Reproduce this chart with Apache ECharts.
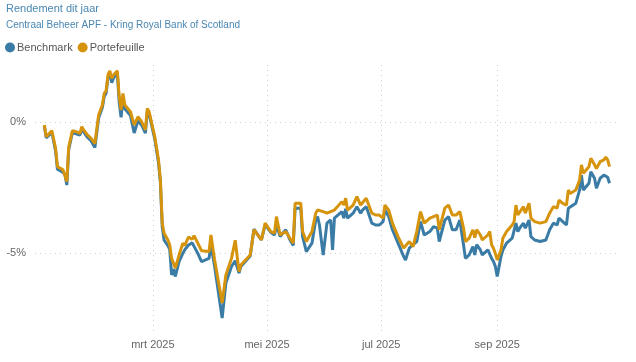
<!DOCTYPE html>
<html>
<head>
<meta charset="utf-8">
<script src="https://cdn.jsdelivr.net/npm/echarts@6/dist/echarts.min.js"></script>
<style>
html,body{margin:0;padding:0;background:#fff;}
#chart{width:636px;height:362px;}
</style>
</head>
<body>
<div id="chart"></div>
<script>
var titleText = 'Rendement dit jaar';
var subtitleText = 'Centraal Beheer APF - Kring Royal Bank of Scotland';
var seriesNames = ['Benchmark', 'Portefeuille'];
var xTickDates = ['2025-03-01', '2025-05-01', '2025-07-01', '2025-09-01'];
var xTickLabels = ['mrt 2025', 'mei 2025', 'jul 2025', 'sep 2025'];
var yTickValues = [0, -5];

var dates = ['2025-01-02','2025-01-03','2025-01-04','2025-01-06','2025-01-08','2025-01-09','2025-01-12','2025-01-13','2025-01-14','2025-01-15','2025-01-16','2025-01-17','2025-01-19','2025-01-21','2025-01-22','2025-01-23','2025-01-25','2025-01-27','2025-01-28','2025-01-29','2025-01-31','2025-02-02','2025-02-03','2025-02-04','2025-02-05','2025-02-06','2025-02-07','2025-02-08','2025-02-10','2025-02-11','2025-02-12','2025-02-13','2025-02-14','2025-02-17','2025-02-18','2025-02-19','2025-02-21','2025-02-23','2025-02-25','2025-02-26','2025-02-27','2025-02-28','2025-03-02','2025-03-04','2025-03-05','2025-03-06','2025-03-07','2025-03-09','2025-03-10','2025-03-11','2025-03-12','2025-03-13','2025-03-15','2025-03-17','2025-03-18','2025-03-19','2025-03-20','2025-03-22','2025-03-23','2025-03-25','2025-03-27','2025-03-28','2025-03-31','2025-04-01','2025-04-03','2025-04-07','2025-04-09','2025-04-12','2025-04-14','2025-04-16','2025-04-17','2025-04-22','2025-04-24','2025-04-25','2025-04-28','2025-04-30','2025-05-03','2025-05-05','2025-05-06','2025-05-08','2025-05-11','2025-05-13','2025-05-15','2025-05-16','2025-05-19','2025-05-20','2025-05-22','2025-05-25','2025-05-27','2025-05-28','2025-05-29','2025-05-31','2025-06-02','2025-06-04','2025-06-05','2025-06-06','2025-06-07','2025-06-10','2025-06-11','2025-06-12','2025-06-13','2025-06-16','2025-06-18','2025-06-20','2025-06-21','2025-06-23','2025-06-26','2025-06-28','2025-06-30','2025-07-02','2025-07-03','2025-07-05','2025-07-07','2025-07-10','2025-07-13','2025-07-14','2025-07-16','2025-07-18','2025-07-20','2025-07-22','2025-07-24','2025-07-27','2025-07-29','2025-07-31','2025-08-01','2025-08-04','2025-08-06','2025-08-07','2025-08-08','2025-08-10','2025-08-12','2025-08-14','2025-08-15','2025-08-17','2025-08-19','2025-08-20','2025-08-21','2025-08-23','2025-08-24','2025-08-27','2025-08-28','2025-08-29','2025-08-30','2025-08-31','2025-09-01','2025-09-03','2025-09-04','2025-09-06','2025-09-09','2025-09-10','2025-09-11','2025-09-12','2025-09-13','2025-09-15','2025-09-16','2025-09-18','2025-09-19','2025-09-21','2025-09-24','2025-09-27','2025-09-29','2025-10-01','2025-10-03','2025-10-04','2025-10-06','2025-10-08','2025-10-09','2025-10-10','2025-10-13','2025-10-15','2025-10-16','2025-10-17','2025-10-20','2025-10-21','2025-10-23','2025-10-24','2025-10-26','2025-10-28','2025-10-29','2025-10-30','2025-10-31'];

var portefeuille = [-0.11,-0.56,-0.5,-0.33,-1.0,-1.7,-1.82,-1.89,-2.27,-0.96,-0.91,-0.33,-0.37,-0.43,-0.18,-0.3,-0.49,-0.62,-0.68,-0.82,0.27,0.65,1.09,1.19,1.79,1.95,1.66,1.79,1.95,0.96,0.46,1.09,0.65,0.39,0.46,-0.11,0.2,0.01,-0.3,0.52,0.39,0.39,-0.56,-1.44,-2.2,-3.85,-4.23,-4.49,-4.68,-5.19,-5.25,-5.56,-5.06,-4.61,-4.7,-4.68,-4.38,-4.46,-4.33,-4.61,-4.9,-4.93,-4.93,-4.3,-5.25,-6.89,-5.82,-5.19,-4.5,-5.69,-5.44,-5.06,-4.1,-4.1,-4.49,-3.85,-4.17,-4.23,-3.6,-4.3,-4.17,-4.4,-4.61,-3.09,-3.09,-4.17,-4.55,-4.17,-3.47,-3.35,-3.4,-3.41,-3.47,-3.41,-3.41,-3.35,-3.35,-3.03,-3.16,-2.9,-3.35,-3.16,-2.84,-3.16,-3.09,-2.9,-3.47,-3.54,-3.54,-3.66,-3.16,-3.35,-3.85,-4.36,-4.8,-4.87,-4.55,-4.74,-4.17,-3.41,-3.85,-3.66,-3.6,-3.54,-4.1,-3.28,-3.16,-3.09,-3.54,-3.54,-3.41,-4.04,-4.55,-4.42,-4.1,-4.4,-4.1,-4.3,-4.49,-4.3,-4.17,-4.68,-4.8,-5.0,-5.25,-4.87,-4.42,-4.17,-3.92,-3.8,-3.16,-3.54,-3.47,-3.22,-3.47,-3.09,-3.66,-3.79,-3.85,-3.79,-3.47,-3.22,-3.28,-2.97,-3.1,-3.16,-2.59,-2.72,-2.59,-2.21,-1.63,-1.95,-1.7,-1.38,-1.63,-1.77,-1.51,-1.44,-1.34,-1.44,-1.7];

var benchmark = [-0.15,-0.6,-0.56,-0.4,-1.1,-1.8,-1.92,-2.0,-2.4,-1.05,-1.0,-0.4,-0.45,-0.5,-0.25,-0.38,-0.58,-0.72,-0.78,-0.97,0.15,0.55,0.98,1.1,1.7,1.85,1.5,1.68,1.85,0.75,0.18,0.9,0.5,0.25,0.3,-0.42,0.05,-0.12,-0.42,0.4,0.3,0.3,-0.65,-1.55,-2.3,-4.0,-4.5,-4.7,-4.85,-5.82,-5.6,-5.88,-5.3,-5.0,-4.87,-4.8,-4.68,-4.6,-4.6,-5.0,-5.31,-5.25,-5.19,-4.68,-5.5,-7.46,-6.13,-5.5,-5.28,-5.75,-5.5,-5.1,-4.08,-4.1,-4.49,-3.9,-4.2,-4.3,-3.9,-4.36,-4.1,-4.45,-4.7,-3.28,-3.28,-4.36,-4.93,-4.61,-3.73,-3.6,-3.92,-5.06,-3.85,-3.73,-4.87,-3.66,-3.73,-3.41,-3.66,-3.3,-3.66,-3.47,-3.22,-3.47,-3.35,-3.22,-3.85,-3.92,-3.92,-3.79,-3.35,-3.6,-4.1,-4.61,-5.12,-5.25,-4.8,-4.67,-4.55,-3.79,-4.3,-4.17,-3.98,-4.04,-4.55,-3.73,-3.6,-3.66,-4.1,-4.1,-3.73,-4.68,-5.19,-5.06,-4.74,-5.06,-4.67,-4.87,-5.06,-4.87,-4.8,-5.19,-5.31,-5.5,-5.88,-5.12,-4.87,-4.61,-4.42,-4.36,-3.85,-4.17,-4.04,-3.85,-4.04,-3.73,-4.36,-4.49,-4.55,-4.49,-4.1,-3.85,-3.92,-3.66,-3.79,-3.92,-3.28,-3.22,-3.09,-2.59,-2.02,-2.59,-2.33,-1.89,-2.14,-2.52,-2.14,-2.02,-2.06,-2.1,-2.33];

function ts(d){ return Date.UTC(+d.slice(0,4), +d.slice(5,7) - 1, +d.slice(8,10)); }
function pairs(vals){ return dates.map(function(d,i){ return [ts(d), vals[i]]; }); }
var tickTimes = xTickDates.map(ts);

var chart = echarts.init(document.getElementById('chart'), null, {renderer:'canvas'});
var font = '"Liberation Sans", Arial, sans-serif';
chart.setOption({
  animation: false,
  textStyle: {fontFamily: font},
  title: [
    {text: titleText, left: 6, top: 3, padding: 0, textStyle: {fontSize: 11, fontWeight: 'normal', color: '#4a87b2', fontFamily: font}},
    {text: subtitleText, left: 6, top: 20, padding: 0, textStyle: {fontSize: 10, fontWeight: 'normal', color: '#4a87b2', fontFamily: font}}
  ],
  legend: {
    left: 5, top: 42, padding: 0, itemWidth: 10, itemHeight: 10, itemGap: 5, icon: 'circle',
    textStyle: {fontSize: 11, color: '#555', fontFamily: font, padding: [0,0,0,-3]},
    data: seriesNames
  },
  grid: {left: 35, right: 19, top: 65, bottom: 29, containLabel: false},
  xAxis: {
    type: 'value',
    min: ts('2024-12-28'),
    max: ts('2025-11-04'),
    axisLine: {show: false},
    axisTick: {show: false, customValues: tickTimes},
    axisLabel: {
      customValues: tickTimes,
      color: '#666', fontSize: 11, margin: 6, fontFamily: font,
      formatter: function(v){
        var i = tickTimes.indexOf(v);
        return i >= 0 ? xTickLabels[i] : '';
      }
    },
    splitLine: {show: true, lineStyle: {type: [1,4], color: '#cfcfcf', width: 1}}
  },
  yAxis: {
    type: 'value',
    min: -8.03, max: 2.17,
    axisLine: {show: false},
    axisTick: {show: false, customValues: yTickValues},
    axisLabel: {customValues: yTickValues, color: '#666', fontSize: 11, margin: 9, fontFamily: font,
      formatter: function(v){ return v + '%'; }},
    splitLine: {show: true, lineStyle: {type: [1,4], color: '#cfcfcf', width: 1}}
  },
  series: [
    {name: seriesNames[0], type: 'line', data: pairs(benchmark), showSymbol: false, symbol: 'circle',
     color: '#3a7ca5', lineStyle: {width: 3, color: '#3a7ca5'}},
    {name: seriesNames[1], type: 'line', data: pairs(portefeuille), showSymbol: false, symbol: 'circle',
     color: '#d6940d', lineStyle: {width: 3, color: '#d6940d'}}
  ]
});
</script>
</body>
</html>
